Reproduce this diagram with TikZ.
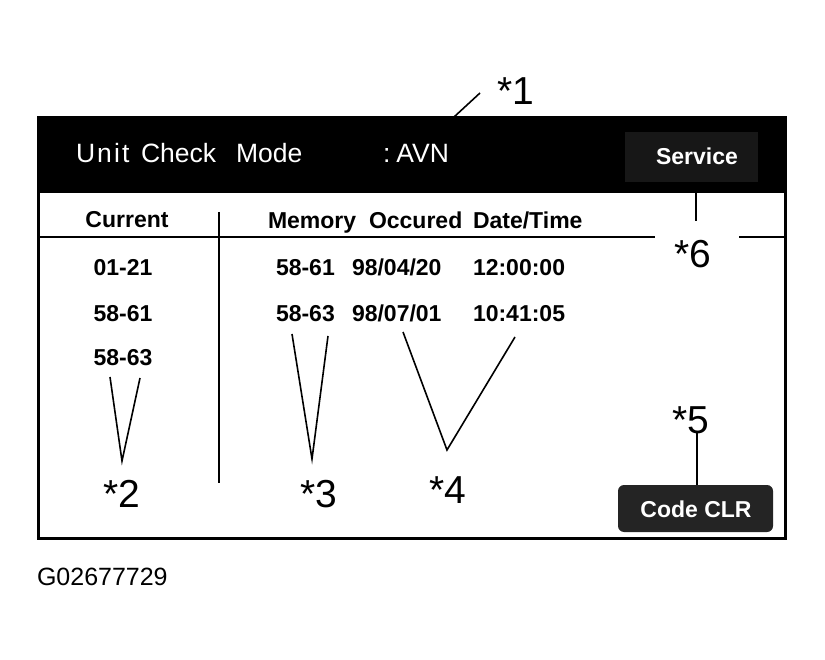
\documentclass[tikz,border=0pt]{standalone}
\usepackage{fontspec}
\setmainfont{Liberation Sans}
\begin{document}
\begin{tikzpicture}[x=1pt,y=-1pt,
  txt/.style={inner sep=0pt,outer sep=0pt},
  hdr/.style={txt,text=white,font=\fontsize{26.5}{26.5}\selectfont},
  bold/.style={txt,font=\fontsize{23}{23}\selectfont\bfseries},
  btn/.style={txt,text=white,font=\fontsize{23}{23}\selectfont\bfseries},
  callout/.style={txt,font=\fontsize{39}{39}\selectfont},
  lead/.style={line width=1.6pt},
  rule/.style={line width=2pt}]
\useasboundingbox (0,0) rectangle (825,660);
% header bar and frame
\fill[black] (37,117) rectangle (787,193);
\draw[line width=3pt] (38.5,118) rectangle (785.5,538.5);
% service button
\fill[black!91] (625,132) rectangle (758,182);
\node[btn,anchor=base] (service) at (697,165) {Service};
% header text
\node[hdr,anchor=base west] (wunit) at (76,163) {\addfontfeature{LetterSpace=8}Unit};
\node[hdr,anchor=base west] (wcheck) at (141,163) {Check};
\node[hdr,anchor=base west] (wmode) at (236,163) {Mode};
\node[hdr,anchor=base west] (avn) at (383,163) {:\hspace{6pt}AVN};
% column headers
\node[bold,anchor=base] (current) at (127,228) {Current};
\node[bold,anchor=base west] (memory) at (268,229) {Memory};
\node[bold,anchor=base west] (occured) at (369,229) {Occured};
\node[bold,anchor=base west] (datetime) at (473,229) {Date/Time};
% table rules
\coordinate (hl1) at (38,237);
\coordinate (hl2) at (655,237);
\coordinate (hr1) at (739,237);
\coordinate (hr2) at (786,237);
\draw[rule] (hl1) -- (hl2);
\draw[rule] (hr1) -- (hr2);
\coordinate (vs1) at (219,212);
\coordinate (vs2) at (219,483);
\draw[rule] (vs1) -- (vs2);
% current column
\node[bold,anchor=base] (c1) at (123,276) {01-21};
\node[bold,anchor=base] (c2) at (123,322) {58-61};
\node[bold,anchor=base] (c3) at (123,366) {58-63};
% memory rows
\node[bold,anchor=base west] (m1) at (276,276) {58-61};
\node[bold,anchor=base west] (d1) at (352,276) {98/04/20};
\node[bold,anchor=base west] (t1) at (473,276) {12:00:00};
\node[bold,anchor=base west] (m2) at (276,322) {58-63};
\node[bold,anchor=base west] (d2) at (352,322) {98/07/01};
\node[bold,anchor=base west] (t2) at (473,322) {10:41:05};
% code clear button
\fill[black!86,rounded corners=6pt] (618,485) rectangle (773,532);
\node[btn,anchor=base] (codeclr) at (696,517) {Code CLR};
% callouts
\node[callout,anchor=base west] (k1) at (497,105) {*1};
\node[callout,anchor=base west] (k2) at (103,507) {*2};
\node[callout,anchor=base west] (k3) at (300,507) {*3};
\node[callout,anchor=base west] (k4) at (429,503) {*4};
\node[callout,anchor=base west] (k5) at (672,433) {*5};
\node[callout,anchor=base west] (k6) at (674,268) {*6};
% leader lines
\coordinate (a1) at (454,117);
\coordinate (a1e) at (480,93);
\draw[lead] (a1) -- (a1e);
\coordinate (p2a) at (110,377);
\coordinate (p2b) at (140,378);
\coordinate (p2) at (122,461);
\draw[lead] (p2a) -- (p2) -- (p2b);
\coordinate (p3a) at (292,334);
\coordinate (p3b) at (328,336);
\coordinate (p3) at (312,459);
\draw[lead] (p3a) -- (p3) -- (p3b);
\coordinate (p4a) at (403,332);
\coordinate (p4b) at (515,337);
\coordinate (p4) at (447,450);
\draw[lead] (p4a) -- (p4) -- (p4b);
\coordinate (s6a) at (696,193);
\coordinate (s6b) at (696,221);
\draw[lead] (s6a) -- (s6b);
\coordinate (s5a) at (697,433);
\coordinate (s5b) at (697,485);
\draw[lead] (s5a) -- (s5b);
% figure id
\node[txt,anchor=base west,font=\fontsize{25}{25}\selectfont] (fig) at (37,585) {G02677729};
\end{tikzpicture}
\end{document}
